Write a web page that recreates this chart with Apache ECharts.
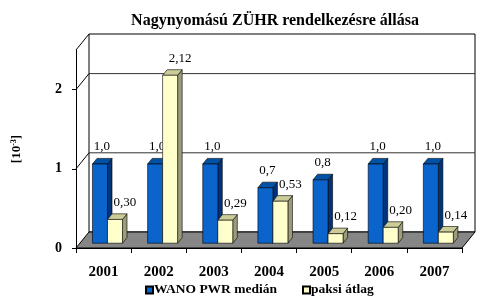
<!DOCTYPE html>
<html><head><meta charset="utf-8">
<script src="https://cdn.jsdelivr.net/npm/echarts@6/dist/echarts.min.js"></script>
<style>html,body{margin:0;padding:0;background:#fff}#c{width:495px;height:306px}</style>
</head><body><div id="c"></div>
<script>
const categories = ['2001','2002','2003','2004','2005','2006','2007'];
const wanoMedian = [1.0, 1.0, 1.0, 0.7, 0.8, 1.0, 1.0];
const paksiAtlag = [0.30, 2.12, 0.29, 0.53, 0.12, 0.20, 0.14];
const yTicks = [0, 1, 2];
const seriesNames = ['WANO PWR medián', 'paksi átlag'];

const FONT = "'Liberation Serif','Times New Roman',serif";
const DX = 13, DY = -16;        // 3D depth offset of back wall
const D0 = 0.3, DB = 0.35;      // bar front depth & bar depth fraction

function fmt(v, d){ return v.toFixed(d).replace('.', ','); }

function frameRender(params, api){
  const cs = params.coordSys;
  const x = cs.x, y = cs.y, w = cs.width, h = cs.height;
  const by = y + h;
  const ch = [];
  ch.push({type:'rect', shape:{x:x+DX, y:y+DY, width:w, height:h}, style:{fill:'#fff', stroke:'#000', lineWidth:1}});
  ch.push({type:'polygon', shape:{points:[[x,by],[x+w,by],[x+w+DX,by+DY],[x+DX,by+DY]]}, style:{fill:'#868686', stroke:'#000', lineWidth:1}});
  yTicks.concat([2.5]).forEach(function(v){
    const py = api.coord([0, v])[1];
    if (v > 0 && v < 2.5) {
      ch.push({type:'line', shape:{x1:x+DX, y1:py+DY, x2:x+w+DX, y2:py+DY}, style:{stroke:'#333', lineWidth:1}});
    }
    if (v > 0) {
      ch.push({type:'line', shape:{x1:x, y1:py, x2:x+DX, y2:py+DY}, style:{stroke:'#000', lineWidth:1}});
    }
  });
  return {type:'group', children: ch};
}

function barRenderer(side, front, sideCol, topCol, dec, labOff){
  return function(params, api){
    const cat = api.value(0), val = api.value(1);
    const base = api.coord([cat, 0]);
    const top = api.coord([cat, val]);
    const band = api.size([1, 0])[0];
    const bw = band * 0.272;
    const sx = D0 * DX, sy = D0 * DY;
    const bdx = DB * DX, bdy = DB * DY;
    const x0 = (side === 0 ? base[0] - bw : base[0]) + sx;
    const x1 = x0 + bw;
    const ty = top[1] + sy, by = base[1] + sy;
    const ls = {stroke:'#000', lineWidth:0.6};
    return {type:'group', children:[
      {type:'polygon', shape:{points:[[x1,ty],[x1+bdx,ty+bdy],[x1+bdx,by+bdy],[x1,by]]}, style:Object.assign({fill:sideCol}, ls)},
      {type:'polygon', shape:{points:[[x0,ty],[x1,ty],[x1+bdx,ty+bdy],[x0+bdx,ty+bdy]]}, style:Object.assign({fill:topCol}, ls)},
      {type:'rect', shape:{x:x0, y:ty, width:bw, height:by-ty}, style:Object.assign({fill:front}, ls)},
      {type:'text', x: x0 + bw/2 + labOff, y: ty - 17, style:{text: fmt(val, dec), fill:'#000', font:'13px ' + FONT, align:'center', verticalAlign:'middle'}}
    ]};
  };
}

const chart = echarts.init(document.getElementById('c'), null, {renderer:'canvas'});
chart.setOption({
  animation:false,
  title:{text:'Nagynyomású ZÜHR rendelkezésre állása', left:270, top:8, textAlign:'center',
    textStyle:{fontFamily:FONT, fontWeight:'bold', fontSize:16, color:'#000'}},
  legend:{data:seriesNames, left:145, top:283, padding:0, itemWidth:7, itemHeight:7, itemGap:25,
    icon:'rect', textStyle:{fontFamily:FONT, fontWeight:'bold', fontSize:13.5, color:'#000', padding:[0,0,0,-4]}},
  grid:{left:76, right:33, top:50, bottom:58},
  xAxis:{type:'category', data:categories, boundaryGap:true,
    axisLine:{show:true, lineStyle:{color:'#000'}},
    axisTick:{show:true, length:5, inside:false, lineStyle:{color:'#000'}},
    axisLabel:{margin:17, fontFamily:FONT, fontWeight:'bold', fontSize:15, color:'#000'},
    splitLine:{show:false}},
  yAxis:{type:'value', min:0, max:2.5, interval:1,
    name:'[10{sup|-3}]', nameLocation:'middle', nameRotate:90, nameGap:52,
    nameTextStyle:{fontFamily:FONT, fontWeight:'bold', fontSize:13, color:'#000',
      rich:{sup:{fontFamily:FONT, fontWeight:'bold', fontSize:8, color:'#000', verticalAlign:'top', padding:[0,0,6,0]}}},
    axisLine:{show:true, lineStyle:{color:'#000'}},
    axisTick:{show:true, length:4, customValues:yTicks, lineStyle:{color:'#000'}},
    axisLabel:{customValues:yTicks, margin:14, fontFamily:FONT, fontWeight:'bold', fontSize:14, color:'#000'},
    splitLine:{show:false}},
  series:[
    {type:'custom', name:'frame', silent:true, z:1, data:[[0,0]], renderItem:frameRender},
    {type:'custom', name:seriesNames[0], z:2, data:wanoMedian.map(function(v,i){return [i,v];}),
      itemStyle:{color:'#0066cc', borderColor:'#000', borderWidth:1},
      encode:{x:0, y:1}, renderItem:barRenderer(0, '#0a64cc', '#00337a', '#0052a6', 1, 2)},
    {type:'custom', name:seriesNames[1], z:3, data:paksiAtlag.map(function(v,i){return [i,v];}),
      itemStyle:{color:'#ffffcc', borderColor:'#000', borderWidth:1},
      encode:{x:0, y:1}, renderItem:barRenderer(1, '#ffffcc', '#9c9c7c', '#cccc99', 2, 10)}
  ]
});
</script></body></html>
